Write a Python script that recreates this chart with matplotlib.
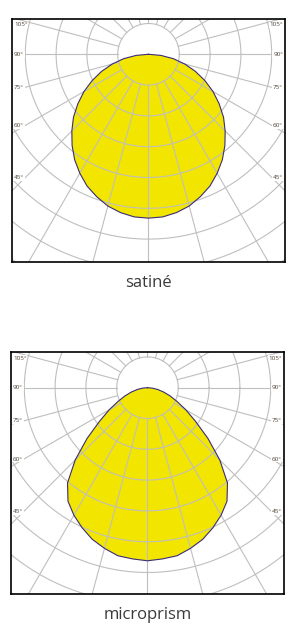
import numpy as np
import matplotlib
matplotlib.use("Agg")
from matplotlib import pyplot as plt

# intensity curves (half, symmetric), angle from nadir in degrees, grid step = 50
satine_angles = [0, 5, 10, 15, 20, 25, 30, 35, 40, 45, 50, 55, 60, 65, 70, 75, 80, 85, 90]
satine_values = [266, 265, 261, 255, 246, 236, 223, 209, 193, 176, 159, 140, 121, 101,
                 81, 61, 41, 20, 0]

prism_angles = [0, 5, 10, 15, 20, 25, 30, 35, 40, 45, 50, 55, 60, 65, 70, 75, 80, 85, 90]
prism_values = [281, 279, 277, 270, 262, 251, 239, 225, 202, 166, 128, 95, 72, 53, 39, 27, 17, 8, 0]

ring_values = [50, 100, 150, 200, 250, 300, 350, 400]
spoke_angles = list(range(0, 360, 15))
label_angles = [105, 90, 75, 60, 45]
captions = ["satiné", "microprism"]

W, H = 297, 638
PX = 0.616  # pixels per intensity unit

GRID = "#bfbfbf"
FILL = "#f2e500"
EDGE = "#3a2c78"
LABEL = "#4f4236"


def panel(fig, box, center, angles, values, caption, cap_y):
    left, top, right, bottom = box
    cx, cy = center
    ax = fig.add_axes([left / W, 1 - bottom / H, (right - left) / W, (bottom - top) / H])
    ax.set_xlim(-(cx - left) / PX, (right - cx) / PX)
    ax.set_ylim(-(bottom - cy) / PX, (cy - top) / PX)
    ax.set_xticks([])
    ax.set_yticks([])
    for s in ax.spines.values():
        s.set_color("black")
        s.set_linewidth(1.2)
        s.set_zorder(10)

    # curve
    a = np.radians(np.array(angles, float))
    v = np.array(values, float)
    th = np.concatenate([-a[::-1], a[1:]])
    r = np.concatenate([v[::-1], v[1:]])
    x = r * np.sin(th)
    y = -r * np.cos(th)
    ax.fill(x, y, color=FILL, zorder=1, lw=0)

    # grid
    t = np.linspace(0, 2 * np.pi, 400)
    for rv in ring_values:
        ax.plot(rv * np.cos(t), rv * np.sin(t), color=GRID, lw=0.8, zorder=2)
    rmin, rmax = ring_values[0], 600
    for ang in spoke_angles:
        tr = np.radians(ang)
        ax.plot([rmin * np.sin(tr), rmax * np.sin(tr)],
                [-rmin * np.cos(tr), -rmax * np.cos(tr)],
                color=GRID, lw=0.8, zorder=2)

    ax.plot(x, y, color=EDGE, lw=0.8, zorder=3, solid_joinstyle="round")

    # angle labels
    xl = (cx - left - 13) / PX
    xe = (cx - left - 2) / PX
    ytop = (cy - top - 6) / PX
    for ang in label_angles:
        tr = np.radians(ang)
        yy = -xl / np.tan(tr) if ang != 90 else 0.0
        yy = min(yy, ytop)
        for side, ha in ((-1, "left"), (1, "right")):
            ax.text(side * xe, yy, f"{ang}°", ha=ha, va="center", fontsize=4.5,
                    color=LABEL, family="Open Sans", zorder=5,
                    bbox=dict(boxstyle="square,pad=0.15", fc="white", ec="none"))

    fig.text(cx / W, 1 - cap_y / H, caption, ha="center", va="center",
             fontsize=12, family="Open Sans", color="#3a3a3a")
    return ax


fig = plt.figure(figsize=(W / 100, H / 100), dpi=100)
panel(fig, (12, 19, 285, 262), (148.5, 54.3), satine_angles, satine_values, captions[0], 283)
panel(fig, (11, 352, 284, 594), (147.5, 387.7), prism_angles, prism_values, captions[1], 615)
fig.savefig("out.png", dpi=100)
